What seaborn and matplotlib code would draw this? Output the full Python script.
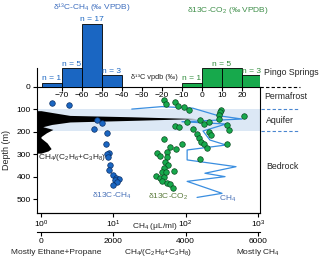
import numpy as np
import pandas as pd
import seaborn as sns
import matplotlib.pyplot as plt
from matplotlib.ticker import NullLocator

# Pingo Springs histograms (counts per 10 permil bin)
ch4_hist_edges = [-80, -70, -60, -50, -40]
ch4_hist_counts = [1, 5, 17, 3]
co2_hist_edges = [-10, 0, 10, 20, 30]
co2_hist_counts = [1, 5, 5, 3]

# d13C-CH4 in borehole (depth m, permil)
ch4_d13_depth = [74, 82, 148, 163, 188, 207, 254, 293, 300, 310, 347, 370, 392, 403, 409, 414, 421, 436]
ch4_d13_val = [-75, -66.3, -52.7, -50.2, -54, -47.3, -48, -46.3, -47.5, -46.8, -46, -46.3,
               -44.7, -43, -41.7, -43.7, -42.3, -44.3]

# d13C-CO2 in borehole
co2_d13_depth = [60, 79, 67, 85, 92, 102, 102, 114, 126, 142, 132, 147, 166, 158, 156, 173, 178,
                 170, 191, 188, 203, 213, 212, 229, 244, 256, 271, 256, 234, 256, 266, 277,
                 296, 307, 288, 310, 333, 347, 372, 362, 380, 395, 406, 399, 418, 428, 433, 450, 380, 321]
co2_d13_val = [-19, -18, -13.7, -11.8, -9, -6.3, 9.7, 9, 8.7, 8.3, 21, -0.8, 1, 3.5, -7.7, -13.3, -11.3,
               12.3, 13.7, -4.3, 3.3, 4.7, -2.7, -1.7, -0.7, 1, 2.3, 12.3, -18.8, -10, -16, -13,
               -22.7, -21, -17.7, -17.7, -18.5, -17.2, -13.8, -18.8, -19.8, -23.2, -21, -18.8, -20.2,
               -17.7, -16, -14.7, -18, -1]

# CH4 concentration profile (uL/ml)
ch4_conc_depth = [100, 89, 96, 129, 144, 156, 166, 197, 237, 259, 281, 325, 355, 384, 399, 420, 473, 491]
ch4_conc = [18, 47, 126, 281, 603, 89, 362, 174, 217, 362, 105, 105, 498, 185, 351, 105, 319, 144]

# CH4/(C2H6+C3H8) profile
ratio_depth = [107, 115, 128, 134, 142, 150, 157, 168, 178, 190, 205, 222, 228, 250, 275, 285, 295]
ratio_val = [0, 300, 800, 2500, 4330, 2500, 800, 300, 50, 330, 150, 0, 0, 170, 280, 200, 0]

aquifer = (100, 195)

BLUE = '#1a66c2'
GREEN = '#17a94c'
LINE_BLUE = '#3a8ee0'

sns.set_theme(style='ticks')
plt.rcParams['font.family'] = ['Liberation Sans', 'DejaVu Sans']
plt.rcParams['mathtext.fontset'] = 'custom'
plt.rcParams['mathtext.rm'] = 'Liberation Sans'
plt.rcParams['mathtext.it'] = 'Liberation Sans:italic'
plt.rcParams['axes.linewidth'] = 0.8
plt.rcParams['xtick.major.width'] = 0.8
plt.rcParams['ytick.major.width'] = 0.8
plt.rcParams['axes.edgecolor'] = 'black'
plt.rcParams['xtick.color'] = 'black'
plt.rcParams['ytick.color'] = 'black'
FS = 6

W, H = 320, 262
fig = plt.figure(figsize=(3.2, 2.62), dpi=100)


def fx(px):
    return px / W


def fy(py):
    return 1 - py / H


d13_lim = (-82.5, 29)
depth_lim = (560, 0)

ax = fig.add_axes([fx(37), fy(213), fx(260) - fx(37), fy(86.5) - fy(213)])
ax.axhspan(*aquifer, color='#dce8f5', lw=0, zorder=0)

# twin axes: ratio (linear, lower), CH4 conc (log), points on top
ax_ratio = ax.twiny()
ax_log = ax.twiny()
ax_pts = ax.twiny()

# ratio fill
ax_ratio.fill_betweenx(ratio_depth, -110, ratio_val, color='black', lw=0)
ax_ratio.set_xlim(-110, 6055)
ax_ratio.xaxis.set_ticks_position('bottom')
ax_ratio.xaxis.set_label_position('bottom')
ax_ratio.spines['bottom'].set_position(('outward', 13.7))
for s in ['top', 'left', 'right']:
    ax_ratio.spines[s].set_visible(False)
ax_ratio.set_xticks([0, 2000, 4000, 6000])
ax_ratio.tick_params(axis='x', length=3, pad=1.5, labelsize=FS)

# CH4 concentration line
ax_log.set_xscale('log')
sns.lineplot(x=ch4_conc, y=ch4_conc_depth, sort=False, estimator=None, color=LINE_BLUE,
             lw=0.9, ax=ax_log)
ax_log.set_xlim(10 ** -0.0553, 10 ** 3.029)
ax_log.xaxis.set_ticks_position('bottom')
ax_log.set_xticks([1, 10, 100, 1000])
ax_log.xaxis.set_minor_locator(NullLocator())
ax_log.tick_params(axis='x', length=3, pad=1, labelsize=FS)
for s in ['top', 'left', 'right']:
    ax_log.spines[s].set_visible(False)
ax_log.set_ylabel('')

# d13C points
sns.scatterplot(x=co2_d13_val, y=co2_d13_depth, color=GREEN, edgecolor='#0a4a20', s=16,
                linewidth=0.5, ax=ax_pts, zorder=3)
sns.scatterplot(x=ch4_d13_val, y=ch4_d13_depth, color=BLUE, edgecolor='#0b2f66', s=16,
                linewidth=0.5, ax=ax_pts, zorder=3)
ax_pts.set_xlim(*d13_lim)
ax_pts.set_xticks([])
for s in ax_pts.spines.values():
    s.set_visible(False)
ax_pts.set_ylabel('')

# main axis: d13C scale at top (labels inside), depth on left
ax.set_xlim(*d13_lim)
ax.set_ylim(*depth_lim)
ax.xaxis.tick_top()
ax.set_xticks(range(-70, 21, 10))
ax.tick_params(axis='x', top=True, bottom=False, labeltop=True, labelbottom=False,
               direction='in', length=3, pad=-9, labelsize=FS)
ax.set_yticks(range(0, 501, 100))
ax.tick_params(axis='y', direction='out', length=3, pad=1.5, labelsize=FS)
ax.set_ylabel('Depth (m)', fontsize=FS + 0.5, labelpad=4)

# right-hand annotations
ax.plot([29, 49], [0, 0], ls=(0, (3, 2)), color='black', lw=0.8, clip_on=False)
for d in aquifer:
    ax.plot([29.5, 48], [d, d], ls=(0, (3, 2)), color='#4a86d0', lw=0.8, clip_on=False)
ax.set_xlim(*d13_lim)
ax.set_ylim(*depth_lim)
ax.text(31, -62, 'Pingo Springs', fontsize=FS + 0.3, ha='left', va='center')
ax.text(31, 45, 'Permafrost', fontsize=FS + 0.3, ha='left', va='center')
ax.text(32, 151, 'Aquifer', fontsize=FS + 0.3, ha='left', va='center')
ax.text(32, 352, 'Bedrock', fontsize=FS + 0.3, ha='left', va='center')

ax.text(-82, 315, 'CH$_4$/(C$_2$H$_6$+C$_3$H$_8$)', fontsize=FS, ha='left', va='center')

# histograms of Pingo Springs
hax = fig.add_axes([fx(37), fy(86.5), fx(260) - fx(37), fy(24) - fy(86.5)])
ch4_centers = [(a + b) / 2 for a, b in zip(ch4_hist_edges[:-1], ch4_hist_edges[1:])]
co2_centers = [(a + b) / 2 for a, b in zip(co2_hist_edges[:-1], co2_hist_edges[1:])]
sns.histplot(x=ch4_centers, weights=ch4_hist_counts, bins=ch4_hist_edges, color=BLUE,
             edgecolor='black', linewidth=0.6, alpha=1, ax=hax)
sns.histplot(x=co2_centers, weights=co2_hist_counts, bins=co2_hist_edges, color=GREEN,
             edgecolor='black', linewidth=0.6, alpha=1, ax=hax)
hax.set_xlim(*d13_lim)
hax.set_ylim(0, 17)
hax.patch.set_visible(False)
for s in ['top', 'right', 'bottom']:
    hax.spines[s].set_visible(False)
hax.spines['left'].set_bounds(0, 5)
hax.set_xticks([])
hax.set_yticks([])
hax.set_ylabel('')

for c, n in zip(ch4_centers, ch4_hist_counts):
    hax.text(c, n + 0.15, f'n = {n}', color=BLUE, fontsize=FS, ha='center', va='bottom')
co2_label_pos = [(co2_centers[0], co2_hist_counts[0]),
                 (co2_hist_edges[2], co2_hist_counts[1]),
                 (co2_centers[3], co2_hist_counts[3])]
for c, n in co2_label_pos:
    hax.text(c, n + 0.15, f'n = {n}', color='#2e8b3a', fontsize=FS, ha='center', va='bottom')

hax.text(-24, 2.5, 'δ¹³C vpdb (‰)', fontsize=FS - 0.7, ha='center', va='center')

# figure texts
fig.text(fx(92), fy(7), 'δ¹³C-CH$_4$ (‰ VPDB)', color='#3f6fbf', fontsize=FS, ha='center', va='center')
fig.text(fx(228), fy(10), 'δ13C-CO$_2$ (‰ VPDB)', color='#3f8f4a', fontsize=FS, ha='center', va='center')
fig.text(fx(112), fy(196), 'δ13C-CH$_4$', color='#4a72b8', fontsize=FS, ha='center', va='center')
fig.text(fx(168), fy(197), 'δ13C-CO$_2$', color='#5b7b3c', fontsize=FS, ha='center', va='center')
fig.text(fx(228), fy(199), 'CH$_4$', color='#4a72b8', fontsize=FS, ha='center', va='center')
fig.text(fx(155), fy(226), 'CH$_4$ (μL/ml)', fontsize=FS, ha='center', va='center')
fig.text(fx(56), fy(252), 'Mostly Ethane+Propane', fontsize=FS, ha='center', va='center')
fig.text(fx(158), fy(252), 'CH$_4$/(C$_2$H$_6$+C$_3$H$_8$)', fontsize=FS, ha='center', va='center')
fig.text(fx(258), fy(252), 'Mostly CH$_4$', fontsize=FS, ha='center', va='center')

fig.savefig('out.png', dpi=100)
